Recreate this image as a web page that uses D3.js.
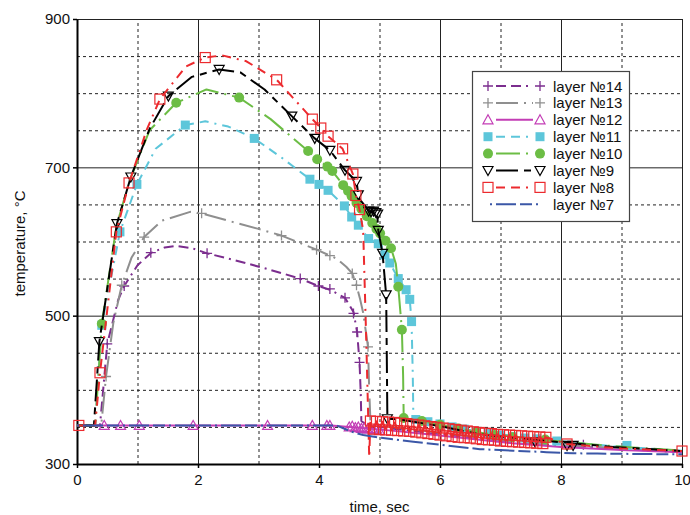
<!DOCTYPE html>
<html>
<head>
<meta charset="utf-8">
<script src="https://cdn.jsdelivr.net/npm/d3@7"></script>
<style>
  body { margin: 0; background: #fff; }
  svg { font-family: "Liberation Sans", Arial, sans-serif; }
</style>
</head>
<body>
<svg id="chart" width="690" height="515"></svg>
<script>
// tick labels
var xTicks = [0, 2, 4, 6, 8, 10]
var yTicks = [300, 500, 700, 900]

// ---- series data, [time sec, temperature C] ----
var layer14Line = [[0,352],[0.38,352],[0.5,462],[0.68,521],[0.78,540],[1.0,568],[1.23,585],[1.45,592],[1.65,594],[1.9,591],[2.15,584],[2.6,575],[3.1,564],[3.69,550],[3.99,540],[4.18,535],[4.43,524],[4.57,505],[4.63,478],[4.67,437],[4.69,395],[4.7,358],[4.8,352],[5.0,350],[5.5,345],[6.0,340],[6.5,335],[7.0,330],[7.5,327],[8.0,325],[8.37,324],[9.0,320],[10,316]]
var layer14Marks = [[0.5,462],[0.78,540],[1.22,585],[2.15,584],[3.69,550],[3.99,540],[4.18,536],[4.43,524],[4.57,503],[4.63,478],[4.67,437],[8.37,326]]

var layer13Line = [[0,352],[0.40,352],[0.48,418],[0.6,490],[0.74,541],[0.9,578],[1.11,606],[1.4,628],[1.87,640],[2.06,638],[2.5,628],[3.0,617],[3.38,608],[3.96,589],[4.18,581],[4.29,577],[4.45,566],[4.55,557],[4.62,541],[4.68,522],[4.73,504],[4.81,458],[4.83,400],[4.85,358],[5.0,352],[5.5,347],[6.0,342],[6.5,337],[7.0,332],[7.5,328],[8.0,325],[9.0,321],[10,317]]
var layer13Marks = [[0.48,418],[0.74,541],[1.11,606],[2.06,638],[3.38,608],[3.96,589],[4.18,581],[4.55,557],[4.62,541],[4.81,458]]

var layer12Line = [[0,352],[4.2,352],[4.5,350],[4.8,348],[5.2,345],[5.8,340],[6.5,334],[7.2,328],[8.0,323],[9.0,319],[10,316]]
var layer12Marks = [[0.45,352],[0.72,352],[1.03,352],[1.92,352],[3.15,352],[3.89,352],[4.13,352],[4.18,352],[4.5,350],[4.55,351],[4.6,349],[4.65,350],[4.7,348],[4.75,349],[4.8,347],[4.85,348],[4.9,346],[4.95,347],[5.0,345]]

var layer11Line = [[0,352],[0.3,352],[0.41,487],[0.71,613],[0.99,677],[1.3,725],[1.79,757],[2.12,762],[2.5,755],[2.93,739],[3.4,712],[3.85,684],[4.0,677],[4.15,669],[4.42,648],[4.54,633],[4.65,622],[4.82,604],[4.98,597],[5.09,582],[5.17,571],[5.31,550],[5.44,535],[5.5,522],[5.53,492],[5.55,420],[5.56,361],[6.0,354],[6.66,343],[7.65,334],[7.93,331],[8.87,324],[10,318]]
var layer11Marks = [[0.41,487],[0.71,613],[0.99,677],[1.79,757],[2.93,739],[3.85,684],[4.0,677],[4.15,669],[4.42,648],[4.54,633],[4.65,622],[4.82,604],[4.98,597],[5.09,582],[5.17,571],[5.31,550],[5.44,535],[5.5,522],[5.53,492],[5.6,360],[5.8,357],[6.0,354],[6.2,350],[6.4,347],[6.6,344],[6.8,341],[7.0,339],[7.2,337],[7.4,335],[7.6,334],[7.93,331],[9.09,325]]

var layer10Line = [[0,352],[0.3,352],[0.41,489],[0.65,620],[0.86,680],[1.2,750],[1.64,787],[2.14,805],[2.68,794],[3.2,765],[3.82,722],[3.97,711],[4.14,701],[4.22,695],[4.4,676],[4.54,661],[4.79,634],[5.01,611],[5.19,591],[5.27,570],[5.31,539],[5.37,481],[5.39,420],[5.4,362],[6.0,353],[6.66,342],[7.65,333],[8.87,324],[10,318]]
var layer10Marks = [[0.41,489],[1.64,787],[2.68,794],[3.82,722],[3.97,711],[4.14,701],[4.22,695],[4.4,676],[4.48,668],[4.54,661],[4.62,652],[4.7,644],[4.79,634],[4.88,625],[4.95,617],[5.01,611],[5.1,601],[5.19,591],[5.31,539],[5.37,481],[5.4,362],[5.7,358],[6.0,353],[6.3,348],[6.6,343],[6.9,339],[7.2,336],[7.74,333]]

var layer9Line = [[0,352],[0.28,352],[0.37,465],[0.66,624],[0.89,687],[1.2,752],[1.51,796],[1.9,822],[2.35,832],[2.7,828],[3.1,805],[3.55,769],[3.93,739],[4.18,723],[4.43,696],[4.62,681],[4.65,663],[4.68,656],[4.84,640],[4.96,639],[4.98,615],[5.05,584],[5.11,528],[5.12,450],[5.13,361],[5.34,360],[6.0,351],[6.66,340],[7.65,332],[8.87,323],[10,317.5]]
var layer9Marks = [[0.37,465],[0.66,624],[0.89,687],[1.51,796],[2.35,832],[3.55,769],[3.93,739],[4.18,723],[4.43,696],[4.62,681],[4.65,663],[4.82,641],[4.86,640],[4.9,641],[4.94,639],[4.97,637],[4.98,615],[5.05,584],[5.11,528],[5.13,361],[7.57,330],[8.1,325],[8.2,325]]

// layer 8 heating and drop, then the dense band of readings after the drop
var layer8Head = [[0,352],[0.3,352],[0.38,423],[0.65,613],[0.86,679],[1.15,750],[1.37,792],[1.8,836],[2.12,848],[2.4,851],[2.8,843],[3.3,818],[3.89,765],[4.03,753],[4.15,742],[4.39,725],[4.56,691],[4.61,662],[4.67,643],[4.73,615],[4.78,470],[4.83,309]]
var layer8Band = [[4.85,358],[4.9,347],[4.95,357.5],[5.0,346.5],[5.05,357],[5.1,346],[5.15,356.5],[5.2,345.5],[5.25,356],[5.3,345],[5.35,355],[5.4,344.5],[5.45,354.5],[5.5,344],[5.55,353.5],[5.6,343],[5.65,352.5],[5.7,342],[5.75,351.5],[5.8,341],[5.85,350.5],[5.9,340],[5.95,349.5],[6.0,339],[6.05,348.5],[6.1,338],[6.15,347.5],[6.2,337],[6.25,346.5],[6.3,336],[6.35,345.5],[6.4,335.5],[6.45,344.5],[6.5,335],[6.55,343.5],[6.6,334],[6.65,342.5],[6.7,333],[6.75,341.5],[6.8,332.5],[6.85,341],[6.9,332],[6.95,340],[7.0,331],[7.05,339.5],[7.1,330.5],[7.15,339],[7.2,330],[7.25,338.5],[7.3,329.5],[7.35,338],[7.4,329],[7.45,337.5],[7.5,328.5],[7.55,337],[7.6,328],[7.65,336.5],[7.7,327.5],[7.75,336]]
var layer8End = [[8.1,327],[8.5,324],[9.0,321],[10,317.5]]
var layer8Marks = [[0.03,352],[0.38,423],[0.65,613],[0.86,679],[1.37,792],[2.12,848],[3.3,818],[3.89,765],[4.03,753],[4.15,742],[4.39,725],[4.56,691],[4.61,662],[4.67,643],[8.1,327],[10,317.5]]

var layer7Line = [[0,352],[4.29,352],[4.54,343.5],[4.73,339],[5.01,335.5],[5.56,330],[6.11,325],[6.66,320],[7.21,318],[7.76,316],[8.2,314.5],[8.6,314],[9.3,313.5],[10,313]]
var layer7Marks = []

// series styles (drawn in legend order, last one on top)
var series = [
    {name: "layer №14", line: layer14Line, marks: layer14Marks, color: "#7b2d8e", dash: "10,5,10,5,2,5", symbol: "plus"},
    {name: "layer №13", line: layer13Line, marks: layer13Marks, color: "#8f8f8f", dash: "22,6,2,6", symbol: "plus"},
    {name: "layer №12", line: layer12Line, marks: layer12Marks, color: "#c33db5", dash: null, symbol: "triUp"},
    {name: "layer №11", line: layer11Line, marks: layer11Marks, color: "#5dc6da", dash: "9,6,9,6,2,6", symbol: "square"},
    {name: "layer №10", line: layer10Line, marks: layer10Marks, color: "#6cbd45", dash: "24,6,2,6", symbol: "circle"},
    {name: "layer №9", line: layer9Line, marks: layer9Marks, color: "#000000", dash: "22,6,7,6", symbol: "triDown"},
    {name: "layer №8", line: layer8Head.concat(layer8Band, layer8End), marks: layer8Marks.concat(layer8Band), color: "#ec2a2e", dash: "9,6,9,6,2,6", symbol: "openSquare"},
    {name: "layer №7", line: layer7Line, marks: layer7Marks, color: "#3b57a7", dash: "2,4,20,4,12,4", symbol: null}
]

// ---- layout ----
var margin = {left: 77, right: 8, top: 19, bottom: 51}
var width = 690 - margin.left - margin.right
var height = 515 - margin.top - margin.bottom

var svg = d3.select("#chart")
var g = svg.append("g").attr("transform", "translate(" + margin.left + "," + margin.top + ")")

var x = d3.scaleLinear().domain([0, 10]).range([0, width])
var y = d3.scaleLinear().domain([300, 900]).range([height, 0])

// grid, vertical every 1 sec (solid on even), horizontal every 50 C (solid every 200)
var gridX = g.append("g")
    .attr("transform", "translate(0," + height + ")")
    .call(d3.axisBottom(x).ticks(10).tickSize(-height).tickFormat(""))
gridX.select(".domain").remove()
gridX.selectAll(".tick line")
    .attr("stroke", "#222")
    .attr("stroke-width", 1)
    .attr("stroke-dasharray", function(d) { return d % 2 == 0 ? null : "3,3" })

var gridY = g.append("g")
    .call(d3.axisLeft(y).ticks(12).tickSize(-width).tickFormat(""))
gridY.select(".domain").remove()
gridY.selectAll(".tick line")
    .attr("stroke", "#222")
    .attr("stroke-width", 1)
    .attr("stroke-dasharray", function(d) { return (d - 300) % 200 == 0 ? null : "3,3" })

// axes
var xAxis = g.append("g")
    .attr("transform", "translate(0," + height + ")")
    .call(d3.axisBottom(x).tickValues(xTicks).tickSize(4).tickPadding(6).tickSizeOuter(0))
var yAxis = g.append("g")
    .call(d3.axisLeft(y).tickValues(yTicks).tickSize(4).tickPadding(3).tickSizeOuter(0))
;[xAxis, yAxis].forEach(function(a) {
    a.select(".domain").attr("stroke", "#000").attr("stroke-width", 2)
    a.selectAll(".tick line").attr("stroke", "#000").attr("stroke-width", 1.5)
    a.selectAll(".tick text")
        .attr("fill", "#111")
        .style("font-size", "15px")
        .style("font-family", "'Liberation Sans', Arial, sans-serif")
})

// axis titles
svg.append("text")
    .attr("x", margin.left + width / 2)
    .attr("y", 512)
    .attr("text-anchor", "middle")
    .style("font-size", "15px")
    .attr("fill", "#111")
    .text("time, sec")

svg.append("text")
    .attr("transform", "translate(25," + (margin.top + height / 2 + 2) + ") rotate(-90)")
    .attr("text-anchor", "middle")
    .style("font-size", "15px")
    .attr("fill", "#111")
    .text("temperature, °C")

// marker drawing
function drawMarker(sel, symbol, color) {
    if (symbol == "plus") {
        sel.append("path").attr("d", "M-5,0H5M0,-5V5")
            .attr("stroke", color).attr("stroke-width", 1.3).attr("fill", "none")
    } else if (symbol == "triUp") {
        sel.append("path").attr("d", "M0,-5L5,4L-5,4Z")
            .attr("stroke", color).attr("stroke-width", 1.2).attr("fill", "none")
    } else if (symbol == "triDown") {
        sel.append("path").attr("d", "M0,5L5,-4L-5,-4Z")
            .attr("stroke", color).attr("stroke-width", 1.2).attr("fill", "none")
    } else if (symbol == "square") {
        sel.append("rect").attr("x", -4.5).attr("y", -4.5).attr("width", 9).attr("height", 9)
            .attr("fill", color)
    } else if (symbol == "openSquare") {
        sel.append("rect").attr("x", -5).attr("y", -5).attr("width", 10).attr("height", 10)
            .attr("stroke", color).attr("stroke-width", 1.2).attr("fill", "none")
    } else if (symbol == "circle") {
        sel.append("circle").attr("r", 5).attr("fill", color)
    }
}

var line = d3.line()
    .x(function(d) { return x(d[0]) })
    .y(function(d) { return y(d[1]) })

series.forEach(function(s) {
    var sg = g.append("g")
    sg.append("path")
        .datum(s.line)
        .attr("d", line)
        .attr("fill", "none")
        .attr("stroke", s.color)
        .attr("stroke-width", 2)
        .attr("stroke-dasharray", s.dash)
        .attr("stroke-linejoin", "round")

    sg.selectAll(".mark")
        .data(s.marks)
        .enter().append("g")
        .attr("class", "mark")
        .attr("transform", function(d) { return "translate(" + x(d[0]) + "," + y(d[1]) + ")" })
        .each(function() { drawMarker(d3.select(this), s.symbol, s.color) })
})

// legend
var legend = svg.append("g")
legend.append("rect")
    .attr("x", 472.5).attr("y", 71.5)
    .attr("width", 157).attr("height", 150)
    .attr("fill", "#fff")
    .attr("stroke", "#444")
    .attr("stroke-width", 1.2)

series.forEach(function(s, i) {
    var ly = 86 + i * 16.9
    var row = legend.append("g")
    if (s.symbol) {
        row.append("line")
            .attr("x1", 496).attr("x2", 533).attr("y1", ly).attr("y2", ly)
            .attr("stroke", s.color).attr("stroke-width", 2)
            .attr("stroke-dasharray", s.dash)
        drawMarker(row.append("g").attr("transform", "translate(488," + ly + ")"), s.symbol, s.color)
        drawMarker(row.append("g").attr("transform", "translate(540," + ly + ")"), s.symbol, s.color)
    } else {
        row.append("line")
            .attr("x1", 490).attr("x2", 542).attr("y1", ly).attr("y2", ly)
            .attr("stroke", s.color).attr("stroke-width", 2)
            .attr("stroke-dasharray", s.dash)
    }
    row.append("text")
        .attr("x", 553)
        .attr("y", ly + 5.5)
        .style("font-size", "15px")
        .attr("fill", "#111")
        .text(s.name)
})
</script>
</body>
</html>
